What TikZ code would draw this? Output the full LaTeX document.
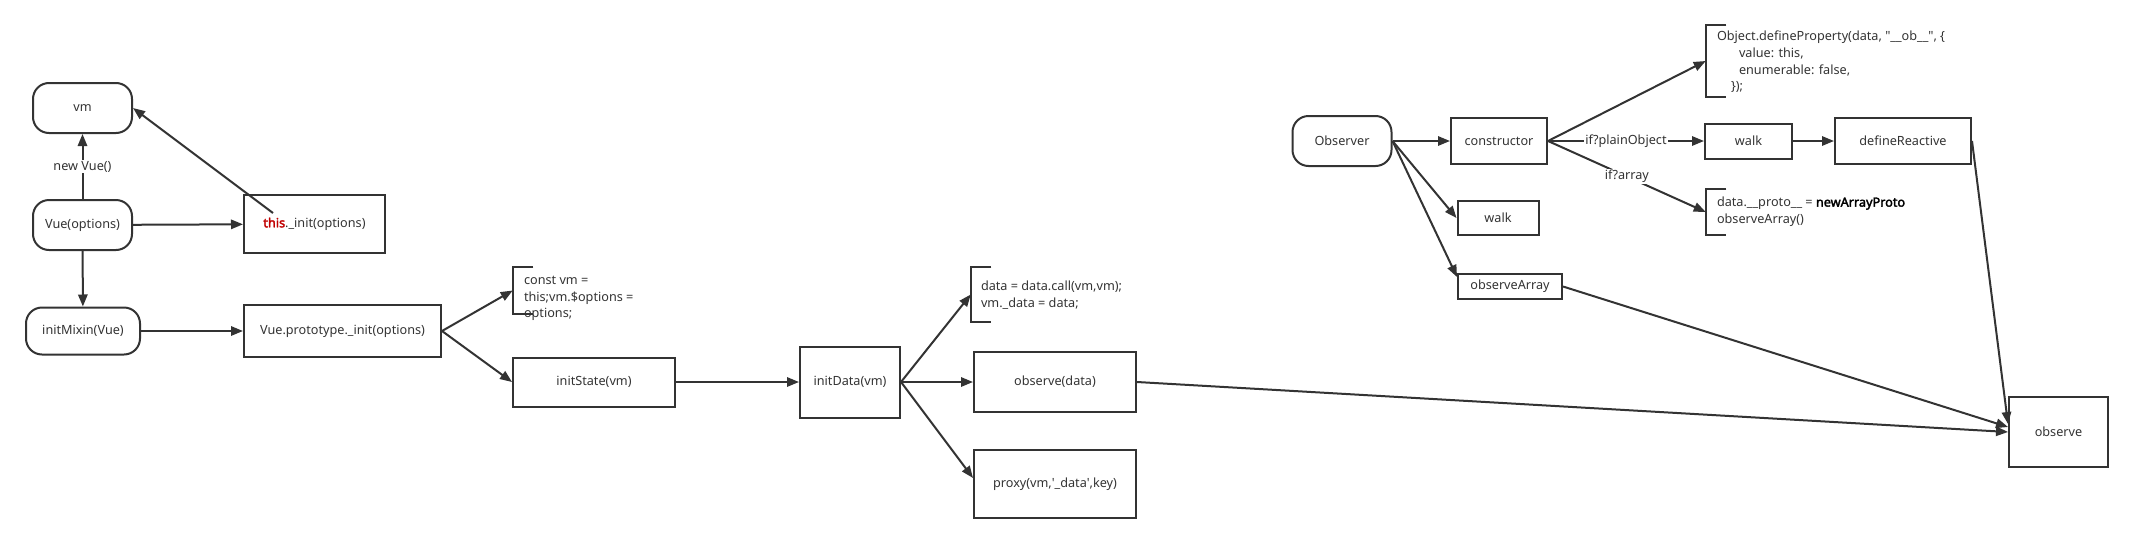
\documentclass[tikz,border=0pt]{standalone}
\usepackage{fontspec}
\newfontfamily\diagfont{Noto Sans}[BoldFont={Noto Sans}, BoldFeatures={FakeBold=2.5}]
\definecolor{linegray}{RGB}{51, 51, 51}
\definecolor{thisred}{RGB}{192, 0, 0}
\usetikzlibrary{arrows.meta, positioning, calc}

% open bracket drawn round an empty node
\newcommand{\bracketbox}[1]{\draw[conn] (#1.north east) -| (#1.south west) -- (#1.south east);}

\begin{document}
\begin{tikzpicture}[x=0.75pt, y=-0.75pt,
  every node/.style={font=\diagfont\fontsize{9.5}{12.5}\selectfont, text=linegray},
  conn/.style={draw=linegray, line width=1.5pt},
  connarrow/.style={conn, -{Triangle[length=9pt, width=7pt]}},
  box/.style={draw=linegray, line width=1.5pt, inner sep=2pt},
  pill/.style={box, rounded corners=12pt},
  brack/.style={inner sep=0pt, minimum width=15pt},
  code/.style={inner sep=0pt, align=left, anchor=north west},
  tag/.style={fill=white, inner sep=1pt}]
  \useasboundingbox (0,0) rectangle (2134,543);

  % Vue entry
  \node[pill, minimum width=74.25pt, minimum height=37.5pt] (vm) at (82.5,108) {vm};
  \node[pill, minimum width=74.25pt, minimum height=37.5pt] (vueopt) at (82.5,225) {Vue(options)};
  \node[pill, minimum width=85.5pt, minimum height=35.25pt] (mixin) at (83,331) {initMixin(Vue)};
  \node[box, minimum width=105.75pt, minimum height=43.5pt] (thisinit) at (314.5,224) {\textcolor{thisred}{\bfseries this}.\_init(options)};
  \node[box, minimum width=147.75pt, minimum height=39pt] (proto) at (342.5,331) {Vue.prototype.\_init(options)};

  % init chain
  \node[brack, minimum height=35.25pt] (constb) at (523,290.5) {};
  \node[code] (constt) at ([shift={(11,9)}]constb.north west) {const vm =\\this;vm.\$options =\\options;};
  \node[box, minimum width=121.5pt, minimum height=36.75pt] (initstate) at (594,382) {initState(vm)};
  \node[box, minimum width=75pt, minimum height=53.25pt] (initdata) at (850,382) {initData(vm)};
  \node[brack, minimum height=41.25pt] (datab) at (981,294.5) {};
  \node[code] (datat) at ([shift={(10,14)}]datab.north west) {data = data.call(vm,vm);\\vm.\_data = data;};
  \node[box, minimum width=121.5pt, minimum height=45pt] (observedata) at (1055,382) {observe(data)};
  \node[box, minimum width=121.5pt, minimum height=51pt] (proxy) at (1055,484) {proxy(vm,'\_data',key)};

  % Observer
  \node[pill, minimum width=74.25pt, minimum height=37.5pt] (observer) at (1342,141) {Observer};
  \node[box, minimum width=72pt, minimum height=34.5pt] (ctor) at (1499,141) {constructor};
  \node[box, minimum width=60.75pt, minimum height=25.5pt] (walksm) at (1498,218) {walk};
  \node[box, minimum width=78pt, minimum height=18.75pt] (obsarr) at (1510,286.5) {observeArray};
  \node[brack, minimum height=54pt] (defpropb) at (1716,61) {};
  \node[code] (defpropt) at ([shift={(11,6)}]defpropb.north west) {Object.defineProperty(data, "\_\_ob\_\_", \{\\\hspace*{16.5pt}value: this,\\\hspace*{16.5pt}enumerable: false,\\\hspace*{10.5pt}\});};
  \node[box, minimum width=65.25pt, minimum height=26.25pt] (walk) at (1748.5,141) {walk};
  \node[box, minimum width=102pt, minimum height=34.5pt] (definereactive) at (1903,141) {defineReactive};
  \node[brack, minimum height=34.5pt] (protob) at (1716,212) {};
  \node[code] (protot) at ([shift={(11,8)}]protob.north west) {data.\_\_proto\_\_ = \textcolor{black}{\bfseries newArrayProto}\\observeArray()};
  \node[box, minimum width=74.25pt, minimum height=52.5pt] (observe) at (2058.5,432) {observe};

  % brackets
  \bracketbox{constb}
  \bracketbox{datab}
  \bracketbox{defpropb}
  \bracketbox{protob}

  % connectors
  \draw[connarrow] (vueopt) -- node[tag] {new Vue()} (vm);
  \draw[connarrow] (vueopt) -- (thisinit);
  \draw[connarrow] ([shift={(30,19)}]thisinit.north west) -- (vm.east);
  \draw[connarrow] (vueopt) -- (mixin);
  \draw[connarrow] (mixin) -- (proto);
  \draw[connarrow] (proto.east) -- (constb.west);
  \draw[connarrow] (proto.east) -- (initstate.west);
  \draw[connarrow] (initstate) -- (initdata);
  \draw[connarrow] (initdata.east) -- (datab.west);
  \draw[connarrow] (initdata.east) -- (observedata.west);
  \draw[connarrow] (initdata.east) -- ([shift={(0,-6)}]proxy.west);
  \draw[connarrow] (observedata.east) -- (observe.west);
  \draw[connarrow] (observer) -- (ctor);
  \draw[connarrow] (observer.east) -- (walksm.west);
  \draw[connarrow] (observer.east) -- ([shift={(0,4)}]obsarr.north west);
  \draw[connarrow] (ctor.east) -- (defpropb.west);
  \draw[connarrow] (ctor.east) -- node[tag] {if?plainObject} (walk.west);
  \draw[connarrow] (ctor.east) -- node[tag] {if?array} (protob.west);
  \draw[connarrow] (walk) -- (definereactive);
  \draw[connarrow] (definereactive.east) -- ([shift={(0,-8)}]observe.west);
  \draw[connarrow] (obsarr.east) -- ([shift={(0,-5)}]observe.west);
\end{tikzpicture}
\end{document}
